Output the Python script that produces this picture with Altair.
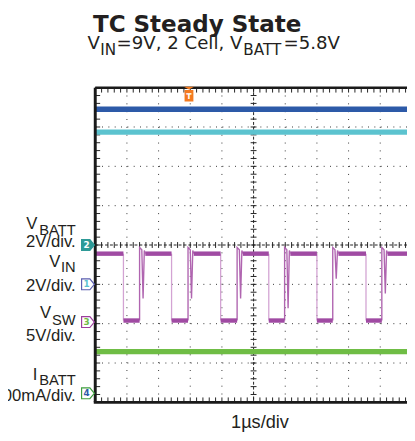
import altair as alt
import numpy as np
import pandas as pd

# ---------------- layout / style constants ----------------
XDIV = 32.3          # px per horizontal division
W = 318              # visible plot width (screen is cut at the window edge)
H = 321              # 8 vertical divisions
X_MAX = round(W / XDIV, 3)
FONT = "DejaVu Sans"
FONT2 = "Liberation Sans"
INK = "#231f20"

BLUE = "#2d5aa8"
CYAN = "#5cc3cf"
GREEN = "#6fbd45"
PURPLE = "#a04ba3"
PURPLE_LIGHT = "#d3a3d3"
PURPLE_MID = "#b065b0"
ORANGE = "#f47b20"

# ---------------- data (divisions on the scope screen) ----------------
TRACE_T = [0.0, X_MAX]
BLUE_LEVEL = [3.45, 3.45]
CYAN_LEVEL = [2.87, 2.87]
GREEN_LEVEL = [-2.71, -2.71]

SW_FALL = [0.89, 2.41, 3.96, 5.48, 7.00, 8.55]
SW_RISE = [1.40, 2.93, 4.48, 5.98, 7.50, 9.05]
SW_SPIKE = [-1.36, -1.36, -1.36, -1.61, -0.86, -1.23]
SW_HIGH = -0.22
SW_LOW = -1.92
SW_OVERSHOOT = -0.06
RISE_DT = [0.0, 0.0, 0.07, 0.11, 0.15, 0.18]

GRID_X = [1, 2, 3, 4, 6, 7, 8, 9]
GRID_Y = [-3, -2, -1, 1, 2, 3]

MARKER_LABELS = ["2", "1", "3", "4"]
MARKER_LEVELS = [0.0, -1.0, -1.96, -3.77]
MARKER_COLORS = ["#2e9a97", "#5b5fb0", "#9c3f9d", "#3f9f3f"]
MARKER_T = -0.23
TRIGGER_T = 2.96

# ---------------- scales ----------------
xs = alt.Scale(domain=[0, X_MAX], nice=False, zero=False)
ys = alt.Scale(domain=[-4, 4], nice=False, zero=False)


def X(f):
    return alt.X(f, type="quantitative", scale=xs, axis=None)


def Y(f):
    return alt.Y(f, type="quantitative", scale=ys, axis=None)


ONE = pd.DataFrame({"k": [0]})


def label(txt, x, y, size=17, align="right", weight="normal", color=INK, font=FONT2):
    return alt.Chart(ONE).mark_text(
        text=txt, align=align, baseline="alphabetic", fontSize=size,
        fontWeight=weight, color=color, font=font
    ).encode(x=alt.value(x), y=alt.value(y))


layers = []

# ---------------- graticule ----------------
layers.append(alt.Chart(pd.DataFrame({"g": GRID_X})).mark_rule(
    color="#333", strokeWidth=1, strokeDash=[1, 7.0]).encode(x=X("g")))
layers.append(alt.Chart(pd.DataFrame({"g": GRID_Y})).mark_rule(
    color="#333", strokeWidth=1, strokeDash=[1, 5.46]).encode(y=Y("g")))
layers.append(alt.Chart(pd.DataFrame({"g": [5]})).mark_rule(
    color="#222", strokeWidth=1, strokeDash=[3, 2]).encode(x=X("g")))
layers.append(alt.Chart(pd.DataFrame({"g": [0]})).mark_rule(
    color="#222", strokeWidth=1, strokeDash=[3, 2]).encode(y=Y("g")))

TX = pd.DataFrame({"t": np.round(np.arange(0, X_MAX, 0.2), 3)})
TY = pd.DataFrame({"t": np.round(np.arange(-4, 4.001, 0.2), 3)})
xc = 5 * W / X_MAX
tick = dict(color="#222", strokeWidth=1)
layers.append(alt.Chart(TX).mark_rule(**tick).encode(x=X("t"), y=alt.value(0), y2=alt.value(5)))
layers.append(alt.Chart(TX).mark_rule(**tick).encode(x=X("t"), y=alt.value(H - 5), y2=alt.value(H)))
layers.append(alt.Chart(TX).mark_rule(**tick).encode(x=X("t"), y=alt.value(H / 2 - 3), y2=alt.value(H / 2 + 3)))
layers.append(alt.Chart(TY).mark_rule(**tick).encode(y=Y("t"), x=alt.value(0), x2=alt.value(5)))
layers.append(alt.Chart(TY).mark_rule(**tick).encode(y=Y("t"), x=alt.value(xc - 3), x2=alt.value(xc + 3)))

# ---------------- flat traces ----------------
flat = pd.concat([
    pd.DataFrame({"t": TRACE_T, "v": BLUE_LEVEL, "ch": "blue"}),
    pd.DataFrame({"t": TRACE_T, "v": CYAN_LEVEL, "ch": "cyan"}),
    pd.DataFrame({"t": TRACE_T, "v": GREEN_LEVEL, "ch": "green"}),
])
layers.append(alt.Chart(flat).mark_line(strokeWidth=5.5).encode(
    x=X("t"), y=Y("v"),
    color=alt.Color("ch:N", scale=alt.Scale(domain=["blue", "cyan", "green"],
                                            range=[BLUE, CYAN, GREEN]), legend=None)))

# ---------------- switch node trace ----------------
plate = []
seg = 0
starts = [0.0] + [r + RISE_DT[-1] for r in SW_RISE]
ends = SW_FALL + [X_MAX]
for s, e in zip(starts, ends):
    plate += [dict(t=s, v=SW_HIGH, seg=seg, i=0), dict(t=e, v=SW_HIGH, seg=seg, i=1)]
    seg += 1
for f, r in zip(SW_FALL, SW_RISE):
    plate += [dict(t=f, v=SW_LOW, seg=seg, i=0), dict(t=r, v=SW_LOW, seg=seg, i=1)]
    seg += 1
plate = pd.DataFrame(plate)

fall_edges, rise_edges = [], []
for k, f in enumerate(SW_FALL):
    fall_edges += [dict(t=f, v=SW_HIGH, seg=k, i=0), dict(t=f, v=SW_LOW, seg=k, i=1)]
for k, (r, sp) in enumerate(zip(SW_RISE, SW_SPIKE)):
    vals = [SW_LOW, SW_OVERSHOOT, -0.12, sp, -0.14, SW_HIGH]
    for j, (dt, v) in enumerate(zip(RISE_DT, vals)):
        rise_edges.append(dict(t=r + dt, v=v, seg=k, i=j))
fall_edges = pd.DataFrame(fall_edges)
rise_edges = pd.DataFrame(rise_edges)

layers.append(alt.Chart(fall_edges).mark_line(color=PURPLE_LIGHT, strokeWidth=1.3).encode(
    x=X("t"), y=Y("v"), detail="seg:N", order="i:Q"))
layers.append(alt.Chart(rise_edges).mark_line(color=PURPLE_MID, strokeWidth=1.4).encode(
    x=X("t"), y=Y("v"), detail="seg:N", order="i:Q"))
layers.append(alt.Chart(plate).mark_line(color=PURPLE, strokeWidth=4.5).encode(
    x=X("t"), y=Y("v"), detail="seg:N", order="i:Q"))

# ---------------- frame ----------------
frame = dict(color="#1a1a1a")
layers.append(alt.Chart(ONE).mark_rule(strokeWidth=3, **frame).encode(
    x=alt.value(0), y=alt.value(0), y2=alt.value(H)))
layers.append(alt.Chart(ONE).mark_rule(strokeWidth=2.5, **frame).encode(
    y=alt.value(0), x=alt.value(0), x2=alt.value(W)))
layers.append(alt.Chart(ONE).mark_rule(strokeWidth=3, **frame).encode(
    y=alt.value(H), x=alt.value(-1.5), x2=alt.value(W)))

# ---------------- channel markers ----------------
TAG = "M-1,-0.85L0.3,-0.85L1,0L0.3,0.85L-1,0.85Z"
mk = pd.DataFrame({"ch": MARKER_LABELS, "lvl": MARKER_LEVELS, "t": [MARKER_T] * 4})
mcol = alt.Scale(domain=MARKER_LABELS, range=MARKER_COLORS)
layers.append(alt.Chart(mk).mark_point(shape=TAG, size=169, filled=True, fill="white",
                                        strokeWidth=1.2, opacity=1).encode(
    x=X("t"), y=Y("lvl"), stroke=alt.Color("ch:N", scale=mcol, legend=None)))
layers.append(alt.Chart(mk).transform_filter(alt.datum.ch == "2").mark_point(
    shape=TAG, size=169, filled=True, opacity=1).encode(
    x=X("t"), y=Y("lvl"), fill=alt.Color("ch:N", scale=mcol, legend=None)))
layers.append(alt.Chart(mk).mark_text(font=FONT, fontSize=9, fontWeight="bold", dx=-1.5,
                                       baseline="middle").encode(
    x=X("t"), y=Y("lvl"), text="ch:N",
    color=alt.condition(alt.datum.ch == "2", alt.value("white"),
                        alt.Color("ch:N", scale=mcol, legend=None))))

# trigger marker
TRIG = "M-0.7,-1L0.7,-1L0,-0.6ZM-0.6,-0.55L0.6,-0.55L0.6,1L-0.6,1Z"
trig = pd.DataFrame({"t": [TRIGGER_T]})
layers.append(alt.Chart(trig).mark_point(shape=TRIG, size=225, filled=True, color=ORANGE,
                                          opacity=1).encode(x=X("t"), y=alt.value(6.5)))
layers.append(alt.Chart(trig).mark_text(text="T", font=FONT, fontSize=8, fontWeight="bold",
                                         color="white", baseline="middle").encode(
    x=X("t"), y=alt.value(9.5)))

# ---------------- texts ----------------
layers += [
    label("TC Steady State", 104, -57, size=23.5, align="center", weight="bold", font=FONT),
    label("V", -8, -39.5, size=18.5, align="left", font=FONT),
    label("IN", 5, -33, size=15.5, align="left", font=FONT),
    label("=9V, 2 Cell, V", 21.8, -39.5, size=18.5, align="left", font=FONT),
    label("BATT", 151, -33, size=15.5, align="left", font=FONT),
    label("=5.8V", 192, -39.5, size=18.5, align="left", font=FONT),

    label("V", -59, 144), label("BATT", -20, 150, size=15),
    label("2V/div.", -20, 163),
    label("V", -35.5, 183), label("IN", -20, 188, size=15),
    label("2V/div.", -20, 207),
    label("V", -45, 235), label("SW", -20, 242, size=15),
    label("5V/div.", -20, 258),
    label("I", -59, 298), label("BATT", -20, 303, size=15),
    label("100mA/div.", -20, 320),

    label("1µs/div", 168, 347, size=18.5, align="center"),
]

chart = alt.layer(*layers).properties(
    width=W, height=H,
    padding={"left": 89, "top": 77, "right": 0, "bottom": 27},
    autosize=alt.AutoSizeParams(type="none"),
).configure_view(stroke=None)

chart.save("out.html", embed_options={"renderer": "svg", "actions": False})
